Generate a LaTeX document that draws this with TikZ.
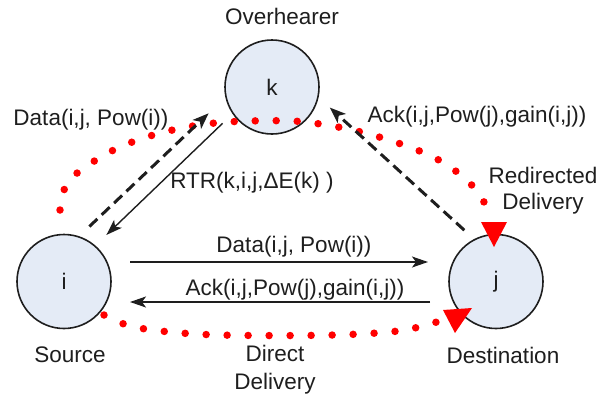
\documentclass[tikz,border=0pt]{standalone}
\usepackage{fontspec}
\setmainfont{Liberation Sans}
\usetikzlibrary{arrows.meta,calc}
\definecolor{nodefill}{RGB}{228,235,246}
\definecolor{ink}{RGB}{30,30,30}
\begin{document}
\begin{tikzpicture}[x=1pt,y=-1pt,
  station/.style={circle,draw=ink,line width=1.6pt,fill=nodefill,minimum size=94pt,
    inner sep=0pt,outer sep=0pt,font=\fontsize{22.5}{27}\selectfont,text=ink},
  lbl/.style={font=\fontsize{22.5}{27}\selectfont,text=ink,inner sep=0pt,align=center},
  msg/.style={line width=1.4pt,draw=ink,-{Stealth[length=16pt,width=11pt,inset=4pt]}},
  overheard/.style={line width=3pt,draw=ink,dash pattern=on 11pt off 6pt,
    -{Stealth[length=16pt,width=12pt,inset=4pt]}},
  route/.style={draw=red,line width=7.5pt,line cap=round,dash pattern=on 0pt off 21pt},
  routetip/.style={fill=red,draw=none}]
\useasboundingbox (0,0) rectangle (600,397);

% stations
\node[station] (k) at (272,87) {k};
\node[station] (i) at (64,281.5) {i};
\node[station] (j) at (496,281.5) {j};

% red delivery routes
\draw[route] plot[smooth,tension=0.6] coordinates {(60,210) (64,190) (76,174) (96,160)
  (120,147) (150,136) (182,128) (215,123) (250,121) (292,121) (320,124) (357,131)
  (398,143) (435,158) (462,176) (480,195) (488,212)};
\fill[routetip] (481,222) -- (507,222) -- (494,247) -- cycle;
\draw[route] plot[smooth,tension=0.6] coordinates {(104,315) (130,326) (170,332)
  (220,335) (300,335.5) (360,334) (405,330) (440,321)};
\fill[routetip] (443,310) -- (472,308) -- (455,333) -- cycle;

% direct messages between source and destination
\draw[msg,shorten <=19pt,shorten >=21pt] ([yshift=19.5pt]i.east) -- ([yshift=19.5pt]j.west);
\draw[msg,shorten <=19pt,shorten >=19pt] ([yshift=-20.5pt]j.west) -- ([yshift=-20.5pt]i.east);

% overheard messages and the redirect request
\draw[overheard,shorten <=15pt,shorten >=24pt] (i.72.2) -- (k.192.3);
\draw[overheard,shorten <=14pt,shorten >=16pt] (j.117.4) -- (k.348);
\draw[msg,shorten <=14.5pt,shorten >=16pt] (k.214) -- (i.49.5);

% labels
\node[lbl] (over) at (282,16) {Overhearer};
\node[lbl] (src) at (70,355) {Source};
\node[lbl] (dst) at (503,355) {Destination};
\node[lbl] (direct) at (275,370) {Direct\\[1pt]Delivery};
\node[lbl] (redir) at (543,191) {Redirected\\[-1pt]Delivery};
\node[lbl] (dataup) at (91,120) {Data(i,j, Pow(i))};
\node[lbl] (ackup) at (477,117) {Ack(i,j,Pow(j),gain(i,j))};
\node[lbl] (rtr) at (252,183) {RTR(k,i,j,ΔE(k) )};
\node[lbl] (datah) at (294,247) {Data(i,j, Pow(i))};
\node[lbl] (ackh) at (295,290) {Ack(i,j,Pow(j),gain(i,j))};
\end{tikzpicture}
\end{document}
